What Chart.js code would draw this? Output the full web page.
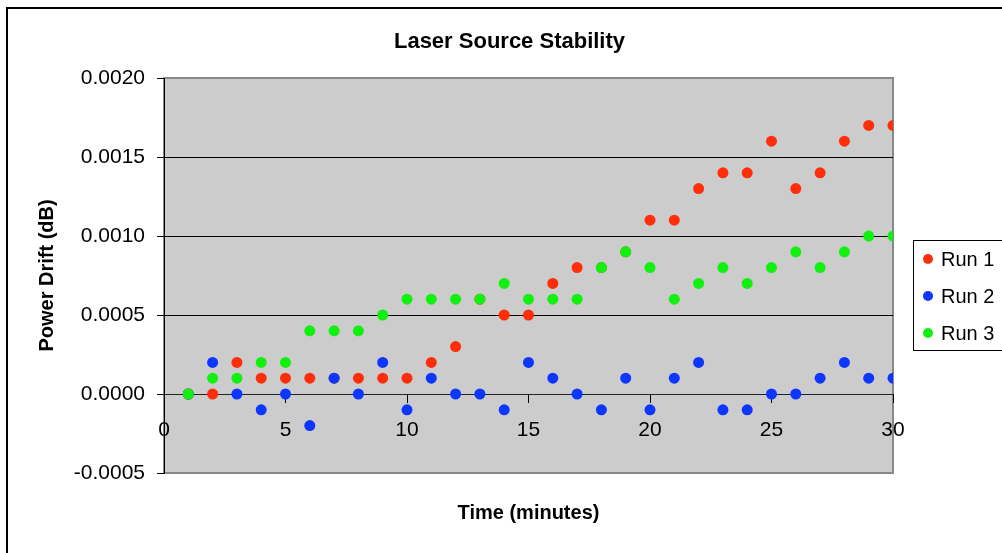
<!DOCTYPE html>
<html>
<head>
<meta charset="utf-8">
<script src="https://cdn.jsdelivr.net/npm/chart.js@4"></script>
<style>
  html, body { margin: 0; padding: 0; background: #fff; overflow: hidden; }
  #wrap { width: 1002px; height: 553px; }
</style>
</head>
<body>
<div id="wrap"><canvas id="grafico" width="1002" height="553"></canvas></div>
<script>
const minutos = [1, 2, 3, 4, 5, 6, 7, 8, 9, 10, 11, 12, 13, 14, 15, 16, 17, 18, 19, 20, 21, 22, 23, 24, 25, 26, 27, 28, 29, 30];

const run1 = [0, 0, 0.0002, 0.0001, 0.0001, 0.0001, 0.0001, 0.0001, 0.0001, 0.0001, 0.0002, 0.0003, 0.0006, 0.0005, 0.0005,
  0.0007, 0.0008, 0.0008, 0.0009, 0.0011, 0.0011, 0.0013, 0.0014, 0.0014, 0.0016, 0.0013, 0.0014, 0.0016, 0.0017, 0.0017];
const run2 = [0, 0.0002, 0, -0.0001, 0, -0.0002, 0.0001, 0, 0.0002, -0.0001, 0.0001, 0, 0, -0.0001, 0.0002,
  0.0001, 0, -0.0001, 0.0001, -0.0001, 0.0001, 0.0002, -0.0001, -0.0001, 0, 0, 0.0001, 0.0002, 0.0001, 0.0001];
const run3 = [0, 0.0001, 0.0001, 0.0002, 0.0002, 0.0004, 0.0004, 0.0004, 0.0005, 0.0006, 0.0006, 0.0006, 0.0006, 0.0007, 0.0006,
  0.0006, 0.0006, 0.0008, 0.0009, 0.0008, 0.0006, 0.0007, 0.0008, 0.0007, 0.0008, 0.0009, 0.0008, 0.0009, 0.0010, 0.0010];

const series = ['Run 1', 'Run 2', 'Run 3'];
const cores = ['#ff2e0a', '#0d37ff', '#12f012'];
const valores = [run1, run2, run3];

const FONTE = "Arial, 'Liberation Sans', sans-serif";

// fundo, moldura e legenda desenhados à mão
const moldura = {
  id: 'moldura',
  beforeDraw(chart) {
    const { ctx, chartArea: a } = chart;
    ctx.save();
    ctx.fillStyle = '#fff';
    ctx.fillRect(0, 0, chart.width, chart.height);
    ctx.strokeStyle = '#000';
    ctx.lineWidth = 2;
    ctx.beginPath();
    ctx.moveTo(7, chart.height + 5);
    ctx.lineTo(7, 8);
    ctx.lineTo(chart.width + 5, 8);
    ctx.stroke();
    ctx.fillStyle = '#cccccc';
    ctx.fillRect(a.left, a.top, a.right - a.left, a.bottom - a.top);
    ctx.strokeStyle = '#888';
    ctx.lineWidth = 2;
    ctx.strokeRect(a.left, a.top, a.right - a.left, a.bottom - a.top);
    ctx.restore();
  },
  afterDraw(chart) {
    const { ctx } = chart;
    ctx.save();
    ctx.strokeStyle = '#000';
    ctx.lineWidth = 1;
    ctx.strokeRect(913.5, 240.5, 120, 110);
    ctx.font = '20px ' + FONTE;
    ctx.textBaseline = 'middle';
    chart.data.datasets.forEach((ds, i) => {
      const y = 259 + i * 37;
      ctx.fillStyle = ds.backgroundColor;
      ctx.beginPath();
      ctx.arc(928, y, 5, 0, Math.PI * 2);
      ctx.fill();
      ctx.fillStyle = '#000';
      ctx.fillText(ds.label, 941, y + 1);
    });
    ctx.restore();
  }
};

const ctx = document.getElementById('grafico').getContext('2d');

const chart = new Chart(ctx, {
  type: 'scatter',
  data: {
    datasets: series.map((nome, i) => ({
      label: nome,
      data: minutos.map((t, j) => ({ x: t, y: valores[i][j] })),
      backgroundColor: cores[i],
      borderColor: cores[i],
      pointRadius: 5.5,
      borderWidth: 0,
      order: 3 - i
    }))
  },
  options: {
    animation: false,
    responsive: false,
    devicePixelRatio: 1,
    layout: { padding: { left: 17, right: 0, top: 0, bottom: 0 } },
    plugins: {
      legend: { display: false },
      tooltip: { enabled: false },
      title: {
        display: true,
        text: 'Laser Source Stability',
        color: '#000',
        font: { family: FONTE, size: 22, weight: 'bold' },
        padding: { top: 29, bottom: 22.6 }
      }
    },
    scales: {
      x: {
        type: 'linear',
        position: { y: 0 },
        min: 0,
        max: 30,
        ticks: {
          stepSize: 5,
          color: '#000',
          padding: 16,
          maxRotation: 0,
          font: { family: FONTE, size: 21 }
        },
        grid: { drawOnChartArea: false, drawTicks: true, tickLength: 8, color: '#000' },
        border: { display: true, color: '#222', width: 1 }
      },
      x2: {
        type: 'linear',
        axis: 'x',
        position: 'bottom',
        min: 0,
        max: 30,
        ticks: { display: false },
        grid: { display: false, drawTicks: false },
        border: { display: false },
        title: {
          display: true,
          text: 'Time (minutes)',
          color: '#000',
          font: { family: FONTE, size: 20, weight: 'bold' },
          padding: { top: 0, bottom: 28 }
        },
        afterFit(s) { s.height = 80; }
      },
      y: {
        min: -0.0005,
        max: 0.0020,
        ticks: {
          stepSize: 0.0005,
          color: '#000',
          padding: 12,
          font: { family: FONTE, size: 21 },
          callback: v => v.toFixed(4)
        },
        grid: {
          color: c => (c.tick && (c.tick.value >= 0.002 || c.tick.value <= -0.0005)) ? '#888' : '#000',
          tickColor: '#000',
          tickLength: 7,
          lineWidth: 1
        },
        border: { display: true, color: '#000', width: 1 },
        title: {
          display: true,
          text: 'Power Drift (dB)',
          color: '#000',
          font: { family: FONTE, size: 20, weight: 'bold' },
          padding: { top: 18, bottom: 0 }
        },
        afterFit(s) { s.width = 147; }
      },
      y2: {
        type: 'linear',
        axis: 'y',
        position: 'right',
        min: -0.0005,
        max: 0.0020,
        ticks: { display: false },
        grid: { display: false, drawTicks: false },
        border: { display: false },
        afterFit(s) { s.width = 109; }
      }
    }
  },
  plugins: [moldura]
});
</script>
</body>
</html>
